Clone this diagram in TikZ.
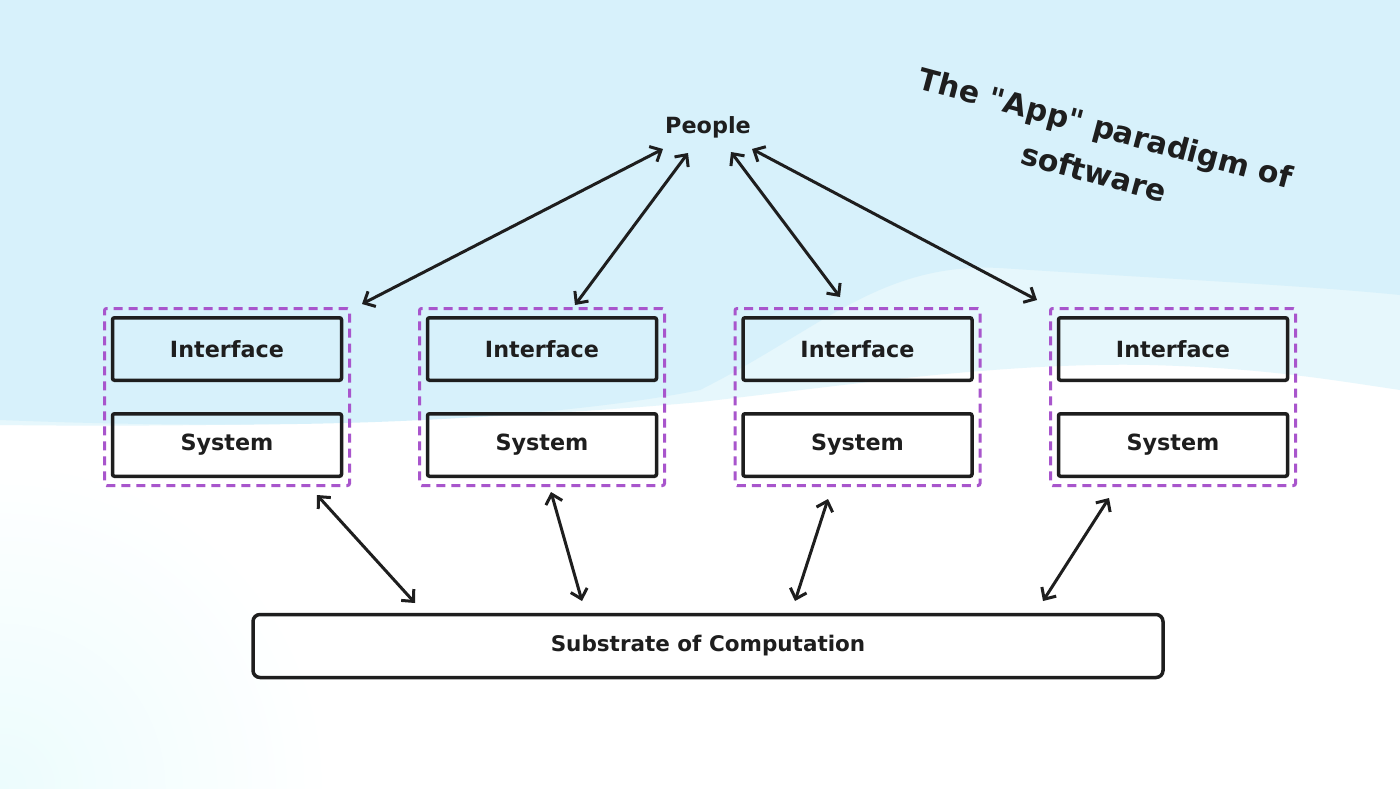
\documentclass[tikz,border=0pt]{standalone}
\usepackage{fontspec}
\setmainfont{DejaVu Sans}
\newfontfamily\plainfont{DejaVu Sans}
\usetikzlibrary{arrows.meta}
\definecolor{ink}{HTML}{1E1E1E}
\definecolor{grp}{HTML}{A855CC}
\definecolor{bgblue}{HTML}{D7F1FB}
\definecolor{bglight}{HTML}{E6F7FC}
\definecolor{bgcyan}{HTML}{ECFCFD}
\begin{document}
\begin{tikzpicture}[x=1pt,y=-1pt,
  lbl/.style={font=\fontsize{22.3}{26}\selectfont\bfseries, text=ink},
  box/.style={draw=ink, line width=3.5pt, rounded corners=2pt, minimum width=229pt, minimum height=62.5pt, inner sep=0pt, lbl},
  grpbox/.style={draw=grp, line width=3pt, dash pattern=on 9pt off 6pt, rounded corners=2pt, minimum width=245pt, minimum height=177pt, inner sep=0pt},
  tip/.tip={Straight Barb[length=9pt,width=17pt,line width=3pt]},
  link/.style={draw=ink, line width=3pt, line cap=round, tip-tip}]
\useasboundingbox (0,0) rectangle (1400,788);
% background
\fill[white] (0,0) rectangle (1400,788);
\shade[inner color=bgcyan, outer color=white] (0,788) circle[radius=330pt];
\fill[white] (0,420) rectangle (1400,470);
\fill[bglight] (0,0) -- (1400,0) -- (1400,390)
  .. controls (1320,378) and (1260,368) .. (1150,365)
  .. controls (1000,362) and (850,385) .. (700,402)
  .. controls (500,420) and (250,428) .. (0,425) -- cycle;
\fill[bgblue] (0,0) -- (1400,0) -- (1400,295)
  .. controls (1300,285) and (1150,278) .. (1000,268)
  .. controls (880,262) and (820,330) .. (700,390)
  .. controls (550,420) and (300,432) .. (0,420) -- cycle;
% title
\node[rotate=-15, align=center, font=\plainfont\fontsize{30}{46}\selectfont\bfseries, text=ink] (title) at (1100,150) {The "App" paradigm of\\software};
% people
\node[lbl] (people) at (708,127) {People};
% groups
\foreach \i/\x in {1/227,2/542,3/857.5,4/1173}{
  \node[grpbox] (g\i) at (\x,397) {};
  \node[box] (if\i) at (\x,349) {Interface};
  \node[box] (sy\i) at (\x,445) {System};
}
% substrate
\node[box, font=\fontsize{21.5}{26}\selectfont\bfseries, rounded corners=7pt, minimum width=910pt, minimum height=63pt] (sub) at (708,646) {Substrate of Computation};
% arrow endpoints
\coordinate (pa1) at (663,149); \coordinate (ga1) at (362,304);
\coordinate (pa2) at (688,153); \coordinate (ga2) at (575,305);
\coordinate (pa3) at (731,152); \coordinate (ga3) at (840,297);
\coordinate (pa4) at (752,149); \coordinate (ga4) at (1037,300);
\coordinate (gb1) at (317,495); \coordinate (sb1) at (415,603);
\coordinate (gb2) at (551,492); \coordinate (sb2) at (582,601);
\coordinate (gb3) at (828,499); \coordinate (sb3) at (795,601);
\coordinate (gb4) at (1109,498); \coordinate (sb4) at (1043,601);
\foreach \i in {1,2,3,4}{
  \draw[link] (pa\i) -- (ga\i);
  \draw[link] (gb\i) -- (sb\i);
}
\end{tikzpicture}
\end{document}
